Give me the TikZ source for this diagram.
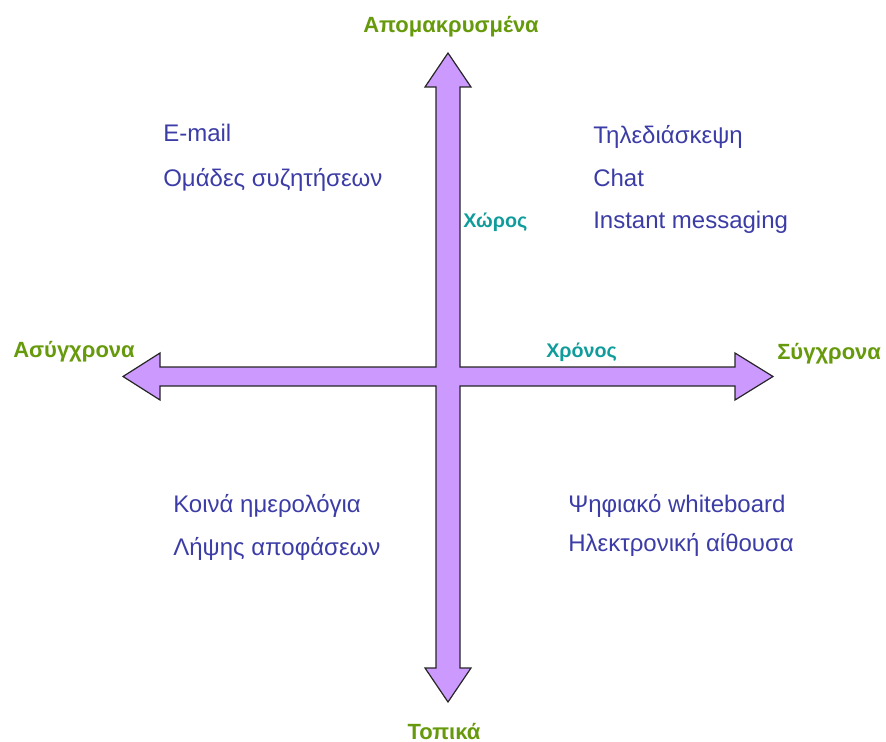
\documentclass[tikz,border=0pt]{standalone}
\usepackage{fontspec}
\setmainfont{Liberation Sans}
\begin{document}
\begin{tikzpicture}[x=0.75pt,y=-0.75pt,
  axisfill/.style={fill=lavender,draw=black!85,line width=0.9pt,line join=miter},
  endlabel/.style={font=\fontsize{16.5pt}{19pt}\selectfont\bfseries,text=leafgreen,inner sep=0pt},
  axislabel/.style={font=\fontsize{14.8pt}{17pt}\selectfont\bfseries,text=tealtext,inner sep=0pt,anchor=base west},
  item/.style={font=\fontsize{18pt}{21pt}\selectfont,text=itemblue,inner sep=0pt,anchor=base west}]
\definecolor{lavender}{HTML}{CC99FF}
\definecolor{leafgreen}{HTML}{669A0C}
\definecolor{tealtext}{HTML}{119C9C}
\definecolor{itemblue}{HTML}{3C3CA6}
\useasboundingbox (0,0) rectangle (886,742);

% the two crossed double-headed axes as one outline
\coordinate (top) at (448,53);
\coordinate (bottom) at (448,702);
\coordinate (left) at (123,376.5);
\coordinate (right) at (773,376.5);
\draw[axisfill] (top) -- (471,87) -- (460,87) -- (460,367) -- (735,367) -- (735,353)
  -- (right) -- (735,400) -- (735,386) -- (460,386) -- (460,668) -- (471,668)
  -- (bottom) -- (425,668) -- (436,668) -- (436,386) -- (160,386) -- (160,400)
  -- (left) -- (160,353) -- (160,367) -- (436,367) -- (436,87) -- (425,87) -- cycle;

% ends of the axes
\node[endlabel,anchor=base] (remote) at (451,33) {Απομακρυσμένα};
\node[endlabel,anchor=base] (local) at (444,739) {Τοπικά};
\node[endlabel,anchor=base west] (async) at (13,357) {Ασύγχρονα};
\node[endlabel,anchor=base west] (sync) at (777,359) {Σύγχρονα};

% axis names
\node[axislabel] (space) at (463,227) {Χώρος};
\node[axislabel] (time) at (546,357) {Χρόνος};

% remote, asynchronous
\node[item] (email) at (163,142) {E-mail};
\node[item] (groups) at (163,186) {Ομάδες συζητήσεων};

% remote, synchronous
\node[item] (conf) at (593,143) {Τηλεδιάσκεψη};
\node[item] (chat) at (593,186) {Chat};
\node[item] (im) at (593,228) {Instant messaging};

% local, asynchronous
\node[item] (cal) at (173,512) {Κοινά ημερολόγια};
\node[item] (dec) at (173,555) {Λήψης αποφάσεων};

% local, synchronous
\node[item] (wb) at (568,512) {Ψηφιακό whiteboard};
\node[item] (room) at (568,551) {Ηλεκτρονική αίθουσα};
\end{tikzpicture}
\end{document}
